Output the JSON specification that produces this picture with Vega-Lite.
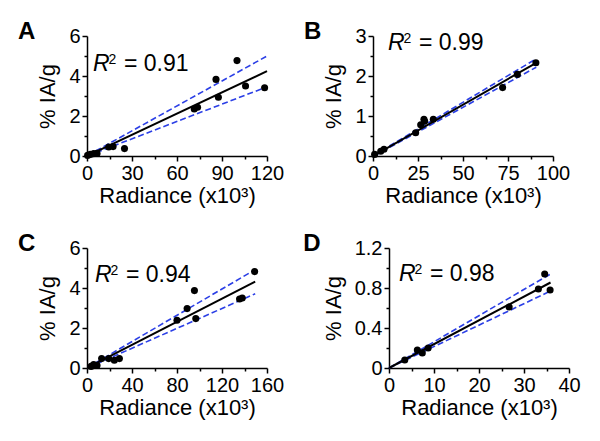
{
  "$schema": "https://vega.github.io/schema/vega-lite/v6.json",
  "background": "white",
  "padding": {"left": 17, "top": 20, "right": 5, "bottom": 5},
  "config": {
    "font": "Liberation Sans",
    "view": {"stroke": null},
    "axis": {"domainColor": "#000", "domainWidth": 1.5, "tickColor": "#000", "tickWidth": 1.5, "labelColor": "#000", "labelFontSize": 20, "titleFontSize": 22, "titleFontWeight": "normal", "titleColor": "#000", "grid": false, "labelPadding": 2, "labelFlush": false, "labelOverlap": false},
    "axisY": {"titlePadding": 9},
    "axisX": {"titlePadding": 2},
    "title": {"fontSize": 24, "fontWeight": "bold", "anchor": "start", "frame": "bounds", "color": "#000", "baseline": "alphabetic", "offset": -18, "dx": -19},
    "text": {"align": "left", "baseline": "alphabetic", "color": "#000"}
  },
  "datasets": {
    "A_pts": [
      {"x": 0.4, "y": 0.03}, {"x": 2.2, "y": 0.08}, {"x": 4.5, "y": 0.12}, {"x": 6.7, "y": 0.13},
      {"x": 14.5, "y": 0.45}, {"x": 17.4, "y": 0.47}, {"x": 25, "y": 0.37}, {"x": 71.5, "y": 2.35},
      {"x": 73.7, "y": 2.44}, {"x": 86, "y": 3.83}, {"x": 87.6, "y": 2.94}, {"x": 100, "y": 4.77},
      {"x": 105.7, "y": 3.5}, {"x": 118.4, "y": 3.41}
    ],
    "A_lines": [
      {"band": "fit", "x": 0.5, "y": 0.02}, {"band": "fit", "x": 120, "y": 4.24},
      {"band": "upper", "x": 0.5, "y": 0.03}, {"band": "upper", "x": 120, "y": 5.0},
      {"band": "lower", "x": 0.5, "y": 0.01}, {"band": "lower", "x": 120, "y": 3.46}
    ],
    "B_pts": [
      {"x": 0.9, "y": 0.04}, {"x": 4.3, "y": 0.12}, {"x": 6.1, "y": 0.17}, {"x": 23.7, "y": 0.58},
      {"x": 26.5, "y": 0.78}, {"x": 28.3, "y": 0.92}, {"x": 28.7, "y": 0.87}, {"x": 33.5, "y": 0.92},
      {"x": 72, "y": 1.71}, {"x": 80.2, "y": 2.04}, {"x": 90.5, "y": 2.33}
    ],
    "B_lines": [
      {"band": "fit", "x": 0.5, "y": 0.01}, {"band": "fit", "x": 90.7, "y": 2.33},
      {"band": "upper", "x": 0.5, "y": 0.02}, {"band": "upper", "x": 90.7, "y": 2.43},
      {"band": "lower", "x": 0.5, "y": 0.0}, {"band": "lower", "x": 90.7, "y": 2.22}
    ],
    "C_pts": [
      {"x": 3.6, "y": 0.08}, {"x": 5.9, "y": 0.17}, {"x": 8.9, "y": 0.13}, {"x": 13, "y": 0.47},
      {"x": 19.3, "y": 0.47}, {"x": 24.3, "y": 0.39}, {"x": 28.8, "y": 0.47}, {"x": 80, "y": 2.39},
      {"x": 89, "y": 2.97}, {"x": 95.5, "y": 3.87}, {"x": 96.7, "y": 2.47}, {"x": 135.6, "y": 3.45},
      {"x": 138, "y": 3.5}, {"x": 149, "y": 4.82}
    ],
    "C_lines": [
      {"band": "fit", "x": 1, "y": 0.03}, {"band": "fit", "x": 149.5, "y": 4.32},
      {"band": "upper", "x": 1, "y": 0.04}, {"band": "upper", "x": 149.5, "y": 4.92},
      {"band": "lower", "x": 1, "y": 0.02}, {"band": "lower", "x": 149.5, "y": 3.71}
    ],
    "D_pts": [
      {"x": 3.5, "y": 0.08}, {"x": 6.3, "y": 0.18}, {"x": 7.4, "y": 0.15}, {"x": 8.7, "y": 0.2},
      {"x": 26.7, "y": 0.61}, {"x": 33.2, "y": 0.79}, {"x": 34.6, "y": 0.94}, {"x": 35.8, "y": 0.78}
    ],
    "D_lines": [
      {"band": "fit", "x": 0, "y": 0}, {"band": "fit", "x": 35.9, "y": 0.855},
      {"band": "upper", "x": 0, "y": 0}, {"band": "upper", "x": 35.9, "y": 0.94},
      {"band": "lower", "x": 0, "y": 0}, {"band": "lower", "x": 35.9, "y": 0.77}
    ],
    "A_lab": [{"x": 4, "y": 4.25, "r": "R", "sup": "2", "rest": "= 0.91"}],
    "B_lab": [{"x": 8.3, "y": 2.65, "r": "R", "sup": "2", "rest": "= 0.99"}],
    "C_lab": [{"x": 7.1, "y": 4.3, "r": "R", "sup": "2", "rest": "= 0.94"}],
    "D_lab": [{"x": 2.2, "y": 0.87, "r": "R", "sup": "2", "rest": "= 0.98"}]
  },
  "spacing": 26,
  "vconcat": [
    {
      "spacing": 19,
      "hconcat": [
        {
          "width": 180, "height": 120,
          "title": {"text": "A"},
          "encoding": {
            "x": {"field": "x", "type": "quantitative", "scale": {"domain": [0, 120], "nice": false},
                  "axis": {"title": "Radiance (x10³)", "values": [0, 15, 30, 45, 60, 75, 90, 105, 120],
                           "labelExpr": "datum.value % 30 === 0 ? datum.label : ''",
                           "tickSize": {"condition": {"test": "datum.value % 30 === 0", "value": 5}, "value": 3}}},
            "y": {"field": "y", "type": "quantitative", "scale": {"domain": [0, 6], "nice": false},
                  "axis": {"title": "% IA/g", "values": [0, 1, 2, 3, 4, 5, 6],
                           "labelExpr": "datum.value % 2 === 0 ? datum.label : ''",
                           "tickSize": {"condition": {"test": "datum.value % 2 === 0", "value": 5}, "value": 3}}}
          },
          "layer": [
            {"data": {"name": "A_lines"}, "transform": [{"filter": "datum.band !== 'fit'"}], "mark": {"type": "line", "color": "#2b3fe6", "strokeWidth": 1.6, "strokeDash": [6, 3]}, "encoding": {"detail": {"field": "band"}}},
            {"data": {"name": "A_lines"}, "transform": [{"filter": "datum.band === 'fit'"}], "mark": {"type": "line", "color": "#000", "strokeWidth": 2}},
            {"data": {"name": "A_pts"}, "mark": {"type": "point", "filled": true, "color": "#000", "opacity": 1, "size": 50}},
            {"data": {"name": "A_lab"}, "mark": {"type": "text", "fontSize": 23, "fontStyle": "italic"}, "encoding": {"text": {"field": "r"}}},
            {"data": {"name": "A_lab"}, "mark": {"type": "text", "fontSize": 14, "dx": 15.5, "dy": -7.5}, "encoding": {"text": {"field": "sup"}}},
            {"data": {"name": "A_lab"}, "mark": {"type": "text", "fontSize": 23, "dx": 31}, "encoding": {"text": {"field": "rest"}}}
          ]
        },
        {
          "width": 180, "height": 120,
          "title": {"text": "B"},
          "encoding": {
            "x": {"field": "x", "type": "quantitative", "scale": {"domain": [0, 100], "nice": false},
                  "axis": {"title": "Radiance (x10³)", "values": [0, 12.5, 25, 37.5, 50, 62.5, 75, 87.5, 100],
                           "labelExpr": "datum.value % 25 === 0 ? datum.label : ''",
                           "tickSize": {"condition": {"test": "datum.value % 25 === 0", "value": 5}, "value": 3}}},
            "y": {"field": "y", "type": "quantitative", "scale": {"domain": [0, 3], "nice": false},
                  "axis": {"title": "% IA/g", "values": [0, 0.5, 1, 1.5, 2, 2.5, 3], "format": "~g",
                           "labelExpr": "datum.value % 1 === 0 ? datum.label : ''",
                           "tickSize": {"condition": {"test": "datum.value % 1 === 0", "value": 5}, "value": 3}}}
          },
          "layer": [
            {"data": {"name": "B_lines"}, "transform": [{"filter": "datum.band !== 'fit'"}], "mark": {"type": "line", "color": "#2b3fe6", "strokeWidth": 1.6, "strokeDash": [6, 3]}, "encoding": {"detail": {"field": "band"}}},
            {"data": {"name": "B_lines"}, "transform": [{"filter": "datum.band === 'fit'"}], "mark": {"type": "line", "color": "#000", "strokeWidth": 2}},
            {"data": {"name": "B_pts"}, "mark": {"type": "point", "filled": true, "color": "#000", "opacity": 1, "size": 50}},
            {"data": {"name": "B_lab"}, "mark": {"type": "text", "fontSize": 23, "fontStyle": "italic"}, "encoding": {"text": {"field": "r"}}},
            {"data": {"name": "B_lab"}, "mark": {"type": "text", "fontSize": 14, "dx": 15.5, "dy": -7.5}, "encoding": {"text": {"field": "sup"}}},
            {"data": {"name": "B_lab"}, "mark": {"type": "text", "fontSize": 23, "dx": 31}, "encoding": {"text": {"field": "rest"}}}
          ]
        }
      ]
    },
    {
      "spacing": 19,
      "hconcat": [
        {
          "width": 180, "height": 120,
          "title": {"text": "C"},
          "encoding": {
            "x": {"field": "x", "type": "quantitative", "scale": {"domain": [0, 160], "nice": false},
                  "axis": {"title": "Radiance (x10³)", "values": [0, 20, 40, 60, 80, 100, 120, 140, 160],
                           "labelExpr": "datum.value % 40 === 0 ? datum.label : ''",
                           "tickSize": {"condition": {"test": "datum.value % 40 === 0", "value": 5}, "value": 3}}},
            "y": {"field": "y", "type": "quantitative", "scale": {"domain": [0, 6], "nice": false},
                  "axis": {"title": "% IA/g", "values": [0, 1, 2, 3, 4, 5, 6],
                           "labelExpr": "datum.value % 2 === 0 ? datum.label : ''",
                           "tickSize": {"condition": {"test": "datum.value % 2 === 0", "value": 5}, "value": 3}}}
          },
          "layer": [
            {"data": {"name": "C_lines"}, "transform": [{"filter": "datum.band !== 'fit'"}], "mark": {"type": "line", "color": "#2b3fe6", "strokeWidth": 1.6, "strokeDash": [6, 3]}, "encoding": {"detail": {"field": "band"}}},
            {"data": {"name": "C_lines"}, "transform": [{"filter": "datum.band === 'fit'"}], "mark": {"type": "line", "color": "#000", "strokeWidth": 2}},
            {"data": {"name": "C_pts"}, "mark": {"type": "point", "filled": true, "color": "#000", "opacity": 1, "size": 50}},
            {"data": {"name": "C_lab"}, "mark": {"type": "text", "fontSize": 23, "fontStyle": "italic"}, "encoding": {"text": {"field": "r"}}},
            {"data": {"name": "C_lab"}, "mark": {"type": "text", "fontSize": 14, "dx": 15.5, "dy": -7.5}, "encoding": {"text": {"field": "sup"}}},
            {"data": {"name": "C_lab"}, "mark": {"type": "text", "fontSize": 23, "dx": 31}, "encoding": {"text": {"field": "rest"}}}
          ]
        },
        {
          "width": 180, "height": 120,
          "title": {"text": "D"},
          "encoding": {
            "x": {"field": "x", "type": "quantitative", "scale": {"domain": [0, 40], "nice": false},
                  "axis": {"title": "Radiance (x10³)", "values": [0, 5, 10, 15, 20, 25, 30, 35, 40],
                           "labelExpr": "datum.value % 10 === 0 ? datum.label : ''",
                           "tickSize": {"condition": {"test": "datum.value % 10 === 0", "value": 5}, "value": 3}}},
            "y": {"field": "y", "type": "quantitative", "scale": {"domain": [0, 1.2], "nice": false},
                  "axis": {"title": "% IA/g", "values": [0, 0.2, 0.4, 0.6, 0.8, 1.0, 1.2], "format": "~g",
                           "labelExpr": "round(datum.value * 10) % 4 === 0 ? datum.label : ''",
                           "tickSize": {"condition": {"test": "round(datum.value * 10) % 4 === 0", "value": 5}, "value": 3}}}
          },
          "layer": [
            {"data": {"name": "D_lines"}, "transform": [{"filter": "datum.band !== 'fit'"}], "mark": {"type": "line", "color": "#2b3fe6", "strokeWidth": 1.6, "strokeDash": [6, 3]}, "encoding": {"detail": {"field": "band"}}},
            {"data": {"name": "D_lines"}, "transform": [{"filter": "datum.band === 'fit'"}], "mark": {"type": "line", "color": "#000", "strokeWidth": 2}},
            {"data": {"name": "D_pts"}, "mark": {"type": "point", "filled": true, "color": "#000", "opacity": 1, "size": 50}},
            {"data": {"name": "D_lab"}, "mark": {"type": "text", "fontSize": 23, "fontStyle": "italic"}, "encoding": {"text": {"field": "r"}}},
            {"data": {"name": "D_lab"}, "mark": {"type": "text", "fontSize": 14, "dx": 15.5, "dy": -7.5}, "encoding": {"text": {"field": "sup"}}},
            {"data": {"name": "D_lab"}, "mark": {"type": "text", "fontSize": 23, "dx": 31}, "encoding": {"text": {"field": "rest"}}}
          ]
        }
      ]
    }
  ]
}
